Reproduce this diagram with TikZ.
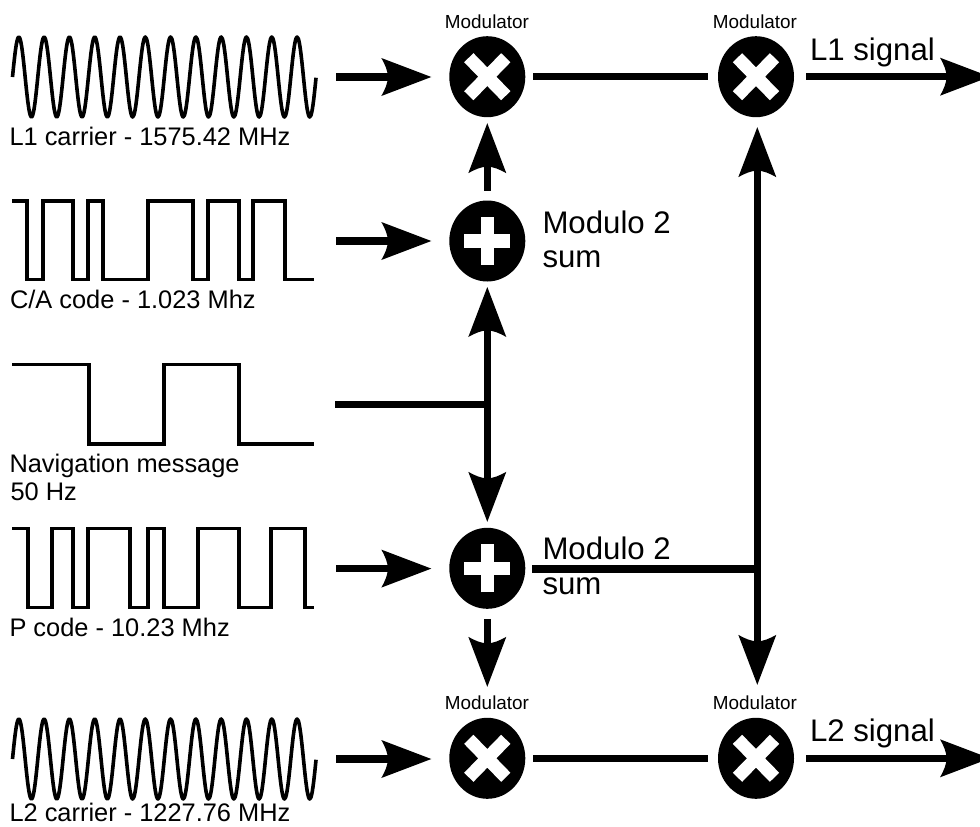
\documentclass[tikz,border=0pt]{standalone}
\usepackage{fontspec}
\setmainfont{Liberation Sans}
\usetikzlibrary{shapes.geometric,calc}
\pgfdeclarearrow{
  name=GDart,
  setup code={
    \pgfarrowssettipend{0pt}
    \pgfarrowssetlineend{-42pt}
    \pgfarrowssetvisualbackend{-50pt}
    \pgfarrowssetbackend{-50pt}
  },
  drawing code={
    \pgfsetfillcolor{black}
    \pgfpathmoveto{\pgfpoint{0pt}{0pt}}
    \pgfpathlineto{\pgfpoint{-50pt}{19pt}}
    \pgfpathcurveto{\pgfpoint{-46pt}{12pt}}{\pgfpoint{-43.5pt}{6pt}}{\pgfpoint{-43.5pt}{0pt}}
    \pgfpathcurveto{\pgfpoint{-43.5pt}{-6pt}}{\pgfpoint{-46pt}{-12pt}}{\pgfpoint{-50pt}{-19pt}}
    \pgfpathclose
    \pgfusepathqfill
  }
}
\tikzset{
  disc/.style={ellipse,fill=black,inner sep=0pt,outer sep=0pt,minimum width=76pt,minimum height=81pt},
  timesnode/.style={disc,path picture={
    \draw[white,line width=13pt]
      ([shift={(-18.5pt,-19pt)}]path picture bounding box.center) -- ([shift={(18.5pt,19pt)}]path picture bounding box.center)
      ([shift={(-18.5pt,19pt)}]path picture bounding box.center) -- ([shift={(18.5pt,-19pt)}]path picture bounding box.center);}},
  plusnode/.style={disc,path picture={
    \draw[white,line width=13.5pt]
      ([shift={(-23pt,0pt)}]path picture bounding box.center) -- ([shift={(23pt,0pt)}]path picture bounding box.center)
      ([shift={(0pt,-24pt)}]path picture bounding box.center) -- ([shift={(0pt,24pt)}]path picture bounding box.center);}},
  wave/.style={line width=3.3pt,line join=miter},
  sinewave/.style={line width=3.6pt,line join=round},
  link/.style={line width=7.5pt,color=black},
  arrowlink/.style={link,-GDart},
  txt/.style={inner sep=0pt,outer sep=0pt,anchor=base west,align=left},
  small/.style={txt,font=\fontsize{25.4pt}{28pt}\selectfont},
  big/.style={txt,font=\fontsize{31.2pt}{34pt}\selectfont},
  modlabel/.style={inner sep=0pt,outer sep=0pt,anchor=base,font=\fontsize{18.9pt}{21pt}\selectfont},
}
\begin{document}
\begin{tikzpicture}[x=1pt,y=-1pt]
\useasboundingbox (0,0) rectangle (980,827);
\clip (0,0) rectangle (980,827);

% waveforms
\draw[sinewave] plot[smooth,samples=241,domain=0:12] ({12.5+25.3*\x},{77-40*sin(360*\x)});
\draw[sinewave] plot[smooth,samples=241,domain=0:12] ({12.5+25.3*\x},{759-40*sin(360*\x)});
\draw[wave] (12,201) -| (27,279.3) -| (43,201) -| (73,279.3) -| (88,201) -| (103,279.3) -| (148,201) -| (193,279.3) -| (208,201) -| (239,279.3) -| (253,201) -| (285,279.3) -- (314,279.3);
\draw[wave] (12,364.3) -| (89,444) -| (164,364.3) -| (239,444) -- (314,444);
\draw[wave] (12,528.7) -| (28,607.3) -| (52,528.7) -| (73,607.3) -| (88,528.7) -| (130,607.3) -| (148,528.7) -| (164,607.3) -| (198,528.7) -| (239,607.3) -| (271,528.7) -| (305,607.3) -- (314,607.3);

% waveform captions
\node[small] (tL1) at (9.5,145.7) {L1 carrier - 1575.42 MHz};
\node[small] (tCA) at (10,308.5) {C/A code - 1.023 Mhz};
\node[small] (tNav) at (9.5,472.7) {Navigation message};
\node[small] (tNavb) at (10.5,500.7) {50 Hz};
\node[small] (tP) at (9.5,636) {P code - 10.23 Mhz};
\node[small] (tL2) at (9.5,821.5) {L2 carrier - 1227.76 MHz};

% operators
\node[timesnode] (m1) at (487.3,76.7) {};
\node[timesnode] (m2) at (756,76.7) {};
\node[plusnode] (p1) at (487.3,241) {};
\node[plusnode] (p2) at (487.3,568.3) {};
\node[timesnode] (m3) at (487.3,758.3) {};
\node[timesnode] (m4) at (756,758.3) {};

% operator labels
\node[modlabel] (lm1) at (487,28) {Modulator};
\node[modlabel] (lm2) at (755,28) {Modulator};
\node[modlabel] (lm3) at (487,709) {Modulator};
\node[modlabel] (lm4) at (755,709) {Modulator};
\node[big] (sum1) at (542.5,233) {Modulo 2};
\node[big] (sum1b) at (542.5,267) {sum};
\node[big] (sum2) at (542.5,559.7) {Modulo 2};
\node[big] (sum2b) at (542.5,594) {sum};
\node[big] (sigL1) at (810,60) {L1 signal};
\node[big] (sigL2) at (810,741.3) {L2 signal};

% free ends and junctions
\coordinate (iL1) at (336,77);
\coordinate (iCA) at (336,241);
\coordinate (iNav) at (335,404.3);
\coordinate (iP) at (336,568.6);
\coordinate (iL2) at (336,759);
\coordinate (jN) at (487.3,404.3);
\coordinate (jS) at (757.3,569);
\coordinate (oL1) at (990,76.7);
\coordinate (oL2) at (990,758.3);

% connectors
\draw[arrowlink,shorten >=18pt] (iL1) -- (m1.west |- iL1);
\draw[arrowlink,shorten >=18pt] (iCA) -- (p1.west |- iCA);
\draw[arrowlink,shorten >=18pt] (iP) -- (p2.west |- iP);
\draw[arrowlink,shorten >=18pt] (iL2) -- (m3.west |- iL2);
\draw[link,shorten <=8pt,shorten >=10pt] (m1.east) -- (m2.west);
\draw[link,shorten <=8pt,shorten >=10pt] (m3.east) -- (m4.west);
\draw[arrowlink,shorten <=10pt,shorten >=6pt] (p1.north) -- (m1.south);
\draw[arrowlink,shorten <=10pt,shorten >=31pt] (p2.south) -- (m3.north);
\draw[link] (iNav) -- (jN);
\draw[arrowlink,shorten >=5.5pt] (jN) -- (p1.south);
\draw[arrowlink,shorten >=6pt] (jN) -- (p2.north);
\draw[link,shorten <=7pt] (p2.east |- jS) -- (jS);
\draw[arrowlink,shorten >=10pt] (jS) -- (jS |- m2.south);
\draw[arrowlink,shorten >=33pt] (jS) -- (jS |- m4.north);
\draw[arrowlink,shorten <=12pt] (m2.east) -- (oL1);
\draw[arrowlink,shorten <=12pt] (m4.east) -- (oL2);
\end{tikzpicture}
\end{document}
